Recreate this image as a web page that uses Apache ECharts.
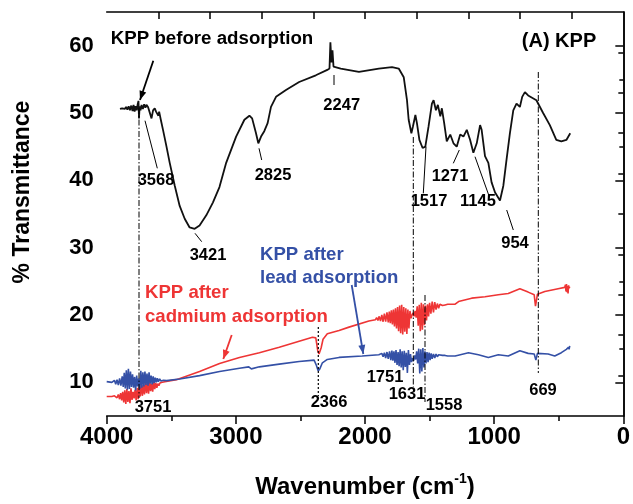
<!DOCTYPE html>
<html><head><meta charset="utf-8">
<script src="https://cdn.jsdelivr.net/npm/echarts@6/dist/echarts.min.js"></script>
<style>html,body{margin:0;padding:0;background:#fff}#c{width:633px;height:504px}</style>
</head><body><div id="c"></div>
<script>
// ---- data (wavenumber cm-1, % transmittance) ----
const kppBefore = [[3897,50.6],[3880,50.7],[3860,50.6],[3850,50.9],[3840,50.5],[3830,51.0],[3820,50.4],[3810,51.1],[3800,50.3],[3792,51.2],[3784,50.2],[3776,51.0],[3768,50.4],[3760,51.3],[3754,51.8],[3750,49.2],[3745,51.0],[3738,50.4],[3730,51.2],[3720,50.6],[3710,51.3],[3700,50.8],[3692,51.2],[3680,50.9],[3666,50.8],[3653,49.2],[3641,50.4],[3628,50.7],[3618,50.2],[3610,50.4],[3600,49.6],[3594,50.2],[3581,49.0],[3564,47.5],[3537,45.0],[3512,42.6],[3473,39.2],[3435,36.2],[3396,34.3],[3358,33.0],[3319,32.8],[3281,33.3],[3229,34.8],[3178,36.7],[3127,39.0],[3075,42.6],[2998,46.5],[2934,49.0],[2895,49.6],[2874,49.2],[2844,47.0],[2826,45.5],[2805,46.5],[2780,47.3],[2754,48.5],[2728,50.9],[2689,52.4],[2612,53.4],[2510,54.6],[2381,55.6],[2292,56.4],[2275,56.6],[2268,60.5],[2260,57.5],[2252,59.3],[2244,56.9],[2230,56.7],[2188,56.6],[2047,56.1],[1893,56.6],[1791,56.8],[1739,56.6],[1700,55.3],[1675,51.9],[1662,49.0],[1641,47.0],[1629,48.0],[1610,49.7],[1598,48.5],[1579,46.0],[1554,44.8],[1533,45.0],[1508,48.0],[1482,51.4],[1469,51.9],[1451,50.4],[1436,51.2],[1417,49.5],[1405,50.7],[1387,48.5],[1367,45.8],[1340,46.8],[1315,45.5],[1290,45.0],[1263,46.8],[1238,46.5],[1212,47.5],[1186,46.0],[1161,44.1],[1135,45.5],[1109,48.2],[1097,47.5],[1071,43.6],[1045,42.6],[1020,39.7],[993,38.2],[955,37.0],[929,39.2],[904,43.1],[878,47.0],[852,50.4],[827,51.4],[801,50.9],[783,52.4],[762,53.1],[737,52.6],[673,51.9],[621,50.0],[569,48.2],[519,46.0],[480,45.8],[441,46.0],[411,47.0]];

const kppCadmium = [[4000,7.9],[3960,7.9],[3940,8.0],[3920,7.7],[3910,8.2],[3900,7.5],[3892,8.4],[3884,7.3],[3876,8.6],[3868,7.0],[3860,8.8],[3852,6.8],[3844,9.0],[3836,7.1],[3828,8.7],[3820,6.9],[3812,9.1],[3804,7.4],[3796,8.6],[3788,7.6],[3780,8.9],[3772,7.3],[3764,9.2],[3756,7.5],[3748,9.4],[3740,7.9],[3732,10.0],[3724,8.0],[3716,9.6],[3708,8.2],[3700,10.3],[3692,8.4],[3684,9.9],[3676,8.3],[3668,10.2],[3660,8.7],[3652,9.8],[3644,8.6],[3636,10.1],[3628,9.0],[3620,9.9],[3612,9.2],[3604,9.8],[3596,9.5],[3588,9.9],[3580,9.7],[3570,10.0],[3560,9.9],[3550,10.1],[3460,10.4],[3281,11.6],[3126,12.8],[2972,13.7],[2818,14.4],[2664,15.2],[2510,16.1],[2407,16.7],[2381,16.6],[2366,14.7],[2356,14.2],[2340,15.1],[2325,16.4],[2292,17.2],[2201,17.7],[2124,18.2],[1970,19.1],[1919,19.3],[1910,19.6],[1900,19.2],[1890,19.8],[1880,19.1],[1870,20.0],[1860,19.0],[1850,20.2],[1840,19.0],[1830,20.4],[1820,18.9],[1812,20.5],[1804,18.8],[1796,20.7],[1788,18.6],[1780,20.8],[1772,18.3],[1764,21.0],[1756,18.0],[1748,21.2],[1740,17.6],[1732,21.4],[1724,17.3],[1716,21.5],[1708,17.1],[1700,21.2],[1692,17.5],[1684,21.0],[1676,17.2],[1668,20.8],[1660,18.0],[1652,20.6],[1644,19.5],[1636,20.0],[1628,20.3],[1620,19.8],[1612,20.6],[1604,19.6],[1596,21.3],[1588,18.4],[1580,21.5],[1572,17.6],[1564,21.8],[1556,17.8],[1548,21.6],[1540,18.5],[1532,21.4],[1524,19.2],[1516,21.6],[1508,19.8],[1500,21.8],[1490,20.2],[1480,22.0],[1470,20.4],[1460,21.9],[1450,20.8],[1440,21.7],[1430,21.0],[1420,21.6],[1400,21.4],[1380,21.5],[1360,21.6],[1302,21.6],[1276,22.0],[1174,22.5],[1071,22.7],[968,23.0],[891,23.2],[801,23.9],[737,23.4],[690,23.0],[680,21.3],[665,23.1],[608,23.5],[505,23.9],[454,24.1],[448,24.5],[444,23.5],[440,24.6],[436,23.4],[432,24.3],[428,23.2],[424,24.4],[420,24.0],[415,24.2]];

const kppLead = [[4000,10.1],[3960,10.0],[3940,10.3],[3930,9.7],[3920,10.4],[3910,9.6],[3900,10.6],[3890,9.5],[3880,10.9],[3872,9.3],[3864,11.4],[3856,9.1],[3848,11.8],[3840,8.9],[3832,12.0],[3824,9.0],[3816,11.6],[3808,9.3],[3800,11.2],[3792,9.2],[3784,10.8],[3776,8.8],[3768,11.0],[3760,9.4],[3752,10.6],[3744,9.0],[3736,11.7],[3728,9.2],[3720,11.5],[3712,9.4],[3704,11.6],[3696,9.6],[3688,11.3],[3680,9.5],[3672,11.5],[3664,9.8],[3656,11.0],[3648,9.7],[3640,10.9],[3632,9.9],[3624,10.7],[3616,10.0],[3608,10.6],[3600,10.1],[3590,10.5],[3580,10.2],[3570,10.4],[3560,10.3],[3537,10.25],[3435,10.5],[3281,11.0],[3126,11.6],[2972,12.1],[2900,12.3],[2880,12.0],[2818,12.3],[2664,12.7],[2510,13.1],[2394,13.3],[2376,12.5],[2363,11.7],[2350,12.0],[2330,12.9],[2292,13.4],[2201,13.7],[2022,13.9],[1893,14.1],[1880,13.9],[1870,14.3],[1860,13.8],[1850,14.4],[1840,13.6],[1830,14.5],[1820,13.5],[1810,14.6],[1800,13.3],[1792,14.7],[1784,13.2],[1776,14.6],[1768,12.9],[1760,14.8],[1752,12.6],[1744,14.5],[1736,12.4],[1728,14.9],[1720,12.2],[1712,14.6],[1704,11.8],[1696,14.7],[1688,12.3],[1680,14.4],[1672,11.4],[1664,14.8],[1656,12.6],[1648,14.2],[1640,13.0],[1632,13.6],[1624,13.2],[1616,14.0],[1608,13.4],[1600,14.6],[1592,12.8],[1584,15.0],[1576,11.3],[1568,14.9],[1560,11.6],[1552,15.1],[1544,12.2],[1536,14.6],[1528,12.8],[1520,14.5],[1512,13.0],[1504,14.4],[1496,13.3],[1488,14.3],[1480,13.5],[1470,14.2],[1460,13.6],[1450,14.2],[1440,13.8],[1430,14.1],[1420,13.9],[1400,14.0],[1380,14.0],[1360,13.9],[1302,13.9],[1199,14.4],[1122,14.1],[1045,13.7],[968,14.1],[891,13.9],[801,14.7],[737,14.3],[690,14.2],[677,13.3],[665,14.3],[582,14.2],[531,13.9],[480,14.4],[441,14.9],[430,15.0],[425,15.2],[420,14.9],[415,15.4]];

const xTickLabels = [0, 1000, 2000, 3000, 4000];
const xMinorTicks = [500, 1500, 2500, 3500];
const xTopTicks = [400, 800, 1200, 1600, 2000, 2400, 2800, 3200, 3600];
const yTickLabels = [10, 20, 30, 40, 50, 60];
const yMinorTicks = [15, 25, 35, 45, 55];
const yRightTicks = [11, 17, 23, 29, 35, 41, 47, 53, 59];

const FF = '"Liberation Sans", Arial, sans-serif';
const RED = '#ee3535', BLUE = '#3450a6';

const chart = echarts.init(document.getElementById('c'), null, {renderer: 'canvas'});
const axLine = {show: true, lineStyle: {color: '#000', width: 1.5}};
const noSplit = {show: false};
const plain = function (v) { return String(v); };
function xAx(extra) {
  return Object.assign({type: 'value', min: 0, max: 4000, inverse: true, splitLine: noSplit}, extra);
}
function yAx(extra) {
  return Object.assign({type: 'value', min: 5, max: 65, splitLine: noSplit}, extra);
}
const option = {
  animation: false,
  backgroundColor: '#fff',
  grid: {left: 106.7, right: 7.4, top: 12, bottom: 86},
  xAxis: [
    xAx({position: 'bottom', axisLine: axLine,
      axisTick: {show: true, customValues: xTickLabels, length: 8, lineStyle: {color: '#000', width: 1.5}},
      axisLabel: {show: true, customValues: xTickLabels, formatter: plain, margin: 9, fontSize: 24, fontWeight: 'bold', color: '#000', fontFamily: FF},
      name: '{a|Wavenumber (cm}{b|-1}{a|)}', nameLocation: 'middle', nameGap: 56,
      nameTextStyle: {rich: {
        a: {fontSize: 24, fontWeight: 'bold', fontFamily: FF, color: '#000', lineHeight: 30},
        b: {fontSize: 14, fontWeight: 'bold', fontFamily: FF, color: '#000', verticalAlign: 'top', lineHeight: 16}
      }}}),
    xAx({position: 'bottom', axisLine: {show: false},
      axisTick: {show: true, customValues: xMinorTicks, length: 5, lineStyle: {color: '#000', width: 1.5}},
      axisLabel: {show: false}}),
    xAx({position: 'top', axisLine: axLine,
      axisTick: {show: true, inside: true, customValues: xTopTicks, length: 7, lineStyle: {color: '#000', width: 1.5}},
      axisLabel: {show: false}})
  ],
  yAxis: [
    yAx({position: 'left', axisLine: axLine,
      axisTick: {show: true, customValues: yTickLabels, length: 8, lineStyle: {color: '#000', width: 1.5}},
      axisLabel: {show: true, customValues: yTickLabels, formatter: plain, margin: 13, fontSize: 22, fontWeight: 'bold', color: '#000', fontFamily: FF}}),
    yAx({position: 'left', axisLine: {show: false},
      axisTick: {show: true, customValues: yMinorTicks, length: 4, lineStyle: {color: '#000', width: 1.5}},
      axisLabel: {show: false}}),
    yAx({position: 'right', axisLine: axLine,
      axisTick: {show: true, inside: true, customValues: yRightTicks, length: 5, lineStyle: {color: '#000', width: 1.5}},
      axisLabel: {show: false}})
  ],
  series: [
    {name: 'KPP after cadmium adsorption', type: 'line', data: kppCadmium, showSymbol: false, symbol: 'none',
      lineStyle: {color: RED, width: 1.6}, itemStyle: {color: RED}, z: 3},
    {name: 'KPP after lead adsorption', type: 'line', data: kppLead, showSymbol: false, symbol: 'none',
      lineStyle: {color: BLUE, width: 1.6}, itemStyle: {color: BLUE}, z: 4},
    {name: 'KPP before adsorption', type: 'line', data: kppBefore, showSymbol: false, symbol: 'none',
      lineStyle: {color: '#111', width: 1.8}, itemStyle: {color: '#111'}, z: 5}
  ]
};
chart.setOption(option);

// ---- annotations ----
const g = [];
function txt(t, x, y, size, color, align) {
  g.push({type: 'text', x: x, y: y, z: 20, style: {text: t, fill: color || '#000', font: 'bold ' + size + 'px ' + FF, align: align || 'center', verticalAlign: 'middle'}});
}
function ln(x1, y1, x2, y2, color, w, dash) {
  g.push({type: 'line', z: 10, shape: {x1: x1, y1: y1, x2: x2, y2: y2}, style: {stroke: color || '#000', lineWidth: w || 1, lineDash: dash || null}});
}
function arrow(x1, y1, x2, y2, color) {
  ln(x1, y1, x2, y2, color, 1.8);
  const a = Math.atan2(y2 - y1, x2 - x1), L = 9, W = 3.5;
  const bx = x2 - L * Math.cos(a), by = y2 - L * Math.sin(a);
  g.push({type: 'polygon', z: 11, shape: {points: [[x2, y2], [bx + W * Math.sin(a), by - W * Math.cos(a)], [bx - W * Math.sin(a), by + W * Math.cos(a)]]}, style: {fill: color}});
}
const DD = [6, 2, 1.5, 2];
// reference lines
ln(139, 108, 139, 398, '#000', 1, DD);
ln(318.3, 327, 318.3, 396, '#000', 1.2, [2, 2]);
ln(413.3, 137, 413.3, 387, '#000', 1, DD);
ln(425, 295, 425, 402, '#000', 1, DD);
ln(538.3, 72, 538.3, 373, '#000', 1, DD);
// leader lines
ln(145, 120.7, 157.3, 168.3);
ln(195, 233.3, 201.7, 241.7);
ln(259, 148.3, 261.7, 160);
ln(334, 75, 334, 85);
ln(426, 146.7, 423.3, 193.3);
ln(459.3, 150, 453.3, 163.3);
ln(475, 156.7, 489.3, 196.7);
ln(506.7, 210, 513.3, 230);
// peak labels
const PS = 16.5;
txt('3568', 156, 180, PS); txt('3421', 208, 255, PS); txt('2825', 273, 175, PS);
txt('2247', 341.7, 105, PS); txt('1517', 429, 201.7, PS); txt('1271', 450, 176.7, PS);
txt('1145', 478, 201.7, PS); txt('954', 515, 243.3, PS);
txt('3751', 153, 407, PS); txt('2366', 329, 402, PS); txt('1751', 385, 377.5, PS);
txt('1631', 407, 394, PS); txt('1558', 444, 405, PS); txt('669', 543, 390, PS);
// series labels
txt('KPP before adsorption', 212, 38.5, 18.7);
arrow(153.3, 60.7, 140, 100, '#000');
txt('(A) KPP', 559, 41.7, 20);
txt('KPP after', 145, 293.3, 18.6, RED, 'left');
txt('cadmium adsorption', 145, 316.7, 18.6, RED, 'left');
arrow(231.7, 335, 223.3, 359, RED);
txt('KPP after', 260, 255, 18.6, BLUE, 'left');
txt('lead adsorption', 260, 278.3, 18.6, BLUE, 'left');
arrow(351.7, 285, 363.3, 354, BLUE);
// y axis title
g.push({type: 'text', x: 23, y: 192, rotation: Math.PI / 2, z: 20,
  style: {text: '% Transmittance', fill: '#000', font: 'bold 23px ' + FF, align: 'center', verticalAlign: 'middle'}});
chart.setOption({graphic: g});
</script></body></html>
